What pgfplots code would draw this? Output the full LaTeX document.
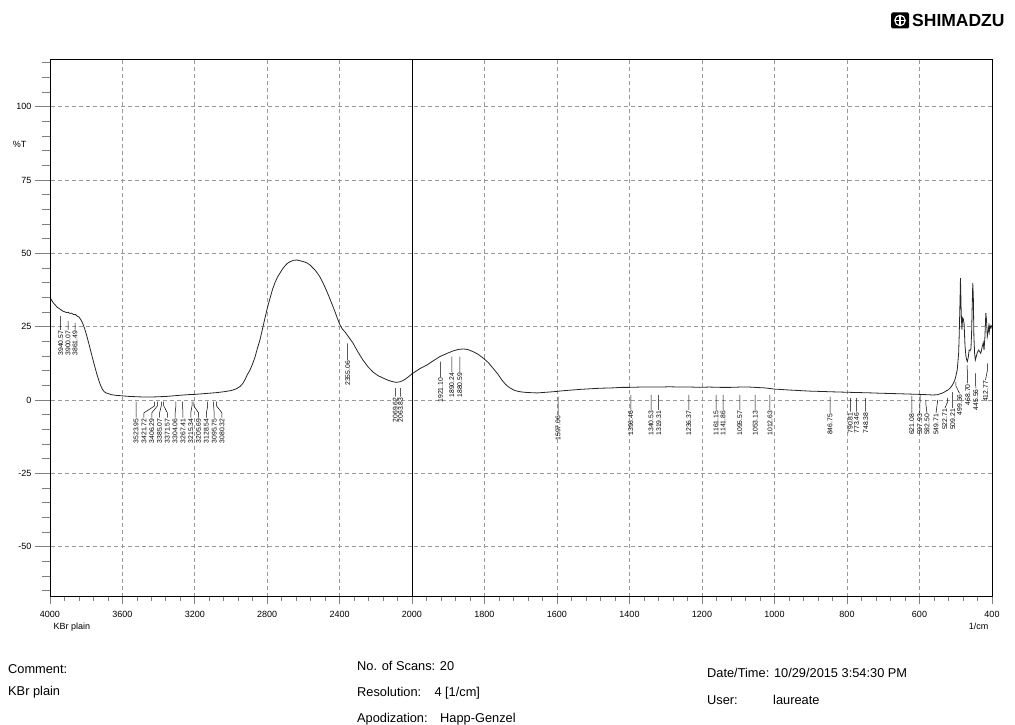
\documentclass[border=0pt]{standalone}
\usepackage{fontspec}
\setmainfont{Liberation Sans}
\usepackage{pgfplots}
\usepackage{pgfplotstable}
\pgfplotsset{compat=1.18}

\pgfplotstableread{
wn T
4000 35.0
3990 33.9
3980 33.0
3970 32.3
3960 31.6
3950 31.2
3940 30.8
3930 30.3
3920 30.1
3910 29.8
3900 29.9
3890 29.5
3880 29.6
3870 29.1
3860 29.2
3850 28.6
3840 28.3
3830 27.4
3820 26.2
3810 24.6
3800 22.6
3790 20.3
3780 17.9
3770 15.5
3760 13.1
3750 10.8
3740 8.6
3730 6.6
3720 4.9
3710 3.6
3700 2.8
3690 2.4
3680 2.2
3670 2.0
3660 1.8
3640 1.6
3620 1.5
3600 1.4
3560 1.2
3520 1.1
3480 1.0
3440 1.0
3400 1.1
3360 1.2
3320 1.4
3280 1.6
3240 1.8
3200 1.9
3160 2.1
3120 2.3
3080 2.5
3040 2.8
3000 3.2
2970 3.8
2950 4.6
2935 5.6
2922 7.0
2910 8.6
2895 10.2
2880 12.4
2867 14.7
2855 17.4
2840 20.5
2826 24.2
2812 28.0
2798 31.6
2784 34.8
2770 37.8
2757 40.0
2743 41.9
2729 43.3
2716 44.6
2702 45.7
2688 46.6
2674 47.1
2655 47.6
2635 47.7
2615 47.4
2591 47.0
2577 46.6
2563 46.0
2550 45.2
2536 44.3
2522 43.2
2508 41.9
2495 40.3
2481 38.5
2467 36.5
2453 34.4
2439 32.2
2425 30.0
2412 27.8
2398 25.6
2384 24.1
2370 23.2
2348 21.3
2326 19.4
2300 16.5
2271 13.6
2243 11.3
2215 9.5
2188 8.3
2160 7.5
2132 6.7
2105 6.2
2085 6.0
2066 6.2
2047 6.7
2028 7.5
2014 8.2
2000 8.9
1978 10.7
1959 11.9
1942 13.3
1923 14.8
1903 15.9
1887 16.7
1873 17.2
1859 17.4
1846 17.2
1832 16.5
1818 15.6
1804 14.3
1790 12.8
1777 10.9
1763 8.8
1752 6.8
1741 5.2
1730 4.1
1716 3.2
1702 2.8
1688 2.6
1674 2.5
1655 2.4
1633 2.6
1611 2.8
1595 3.0
1578 3.2
1557 3.4
1537 3.6
1510 3.8
1481 4.0
1450 4.1
1420 4.3
1399 4.3
1370 4.4
1340 4.4
1316 4.4
1290 4.5
1260 4.4
1230 4.4
1206 4.3
1180 4.4
1150 4.3
1120 4.3
1095 4.4
1070 4.4
1040 4.2
1025 4.1
1012 3.9
1000 3.7
985 3.6
960 3.4
930 3.2
900 3.0
870 2.9
847 2.8
820 2.7
792 2.6
760 2.5
730 2.4
709 2.3
680 2.2
650 2.1
626 2.0
599 1.9
580 1.8
563 1.7
550 1.8
543 2.1
536 2.4
530 2.8
525 3.2
521 3.4
516 4.0
511 4.8
506 5.8
502 7.0
499 8.5
496 10.2
494 13.0
492 16.0
490.5 22.0
489.5 27.0
488 35.0
487 41.5
486 36.0
485 30.0
483 24.0
481 28.0
479 27.5
477 26.0
474.5 18.5
472 15.0
470 13.8
468 13.1
465.5 14.5
463 17.0
460.5 16.8
458 17.5
456 24.0
454.5 33.0
453 39.8
451.5 35.0
450 22.0
448 16.0
446 13.6
443 15.0
441 16.0
437 17.0
434 16.5
431 15.9
429 17.0
427 18.2
424 19.5
422 17.0
419.5 21.6
417 29.6
415 27.0
413 21.6
411 23.0
409 25.0
407.5 23.3
405.5 25.5
403 24.5
400 25.5
}\spectrum

\pgfplotstableread{
x y lab
3940.57 23.9 3940.57
3900.07 23.9 3900.07
3861.49 23.9 3861.49
3523.95 -6.0 3523.95
3480.9 -6.0 3421.72
3437.8 -6.0 3406.29
3394.7 -6.0 3385.07
3351.6 -6.0 3371.57
3308.5 -6.0 3304.06
3265.4 -6.0 3267.41
3222.3 -6.0 3215.34
3179.2 -6.0 3205.69
3136.1 -6.0 3128.54
3093.0 -6.0 3095.75
3049.9 -6.0 3080.32
2355.06 13.6 2355.06
2092 1.1 2069.62
2063.83 1.1 2063.83
}\leftlabels

\pgfplotstableread{
x y lab
1921.10 7.9 1921.10
1890.24 9.6 1890.24
1868 9.6 1880.59
1597.06 -5.1 1597.06
1396.46 -3.4 1396.46
1340.53 -3.4 1340.53
1319.31 -3.4 1319.31
1236.37 -3.4 1236.37
1161.15 -3.4 1161.15
1141.86 -3.4 1141.86
1095.57 -3.4 1095.57
1053.13 -3.4 1053.13
1012.63 -3.4 1012.63
846.75 -4.5 846.75
790.81 -4.0 790.81
773.46 -4.0 773.46
748.38 -4.0 748.38
621.08 -4.5 621.08
599.5 -4.5 597.93
579.3 -4.5 582.50
554.5 -4.5 549.71
530 -2.8 522.71
508.4 -2.8 509.21
489.7 2.3 499.56
467 5.7 468.70
444.7 4.0 445.56
418 6.8 412.77
}\rightlabels

\pgfplotsset{
  irbase/.style={
    scale only axis, height=536.8pt, ymin=-67, ymax=116,
    x dir=reverse, axis line style={line width=0.9pt},
    tick align=outside,
    tick label style={font=\fontsize{9}{10}\selectfont},
    xticklabel style={yshift=-4pt},
    /pgf/number format/assume math mode=true,
    /pgf/number format/1000 sep={},
    scaled ticks=false,
  },
  irdata/.style={
    irbase,
    ytick={-50,-25,...,100}, yticklabels={}, ytick style={draw=none},
    xtick pos=bottom, major tick length=7pt, minor tick length=4pt,
    xtick style={line width=0.7pt},
    grid=major, major grid style={gray!80, line width=0.6pt, dash pattern=on 4pt off 3pt},
  },
  peaklabels/.style={
    only marks, mark=none, nodes near coords, point meta=explicit symbolic,
    nodes near coords align={anchor=east},
    nodes near coords style={rotate=90, anchor=east, inner sep=0.8pt,
      font=\fontsize{6.8}{7.5}\selectfont, text=black},
  },
}

\begin{document}
\begin{tikzpicture}
\path[use as bounding box] (0,0) rectangle (1015pt,724pt);

% left part 4000-2000
\begin{axis}[irdata, at={(50pt,127.5pt)}, anchor=south west, width=362pt,
  xmin=2000, xmax=4000, xtick={2000,2400,...,4000}, minor xtick={2080,2160,...,3920}]
\addplot[black!85, line width=0.8pt] table[x=wn, y=T] {\spectrum};
\addplot[black, line width=0.5pt, unbounded coords=jump] coordinates {
(3940.57,28.6) (3940.57,23.9) (3940.57,nan)
(3900.07,26.9) (3900.07,23.9) (3900.07,nan)
(3861.49,26.3) (3861.49,23.9) (3861.49,nan)
(3523.95,-0.6) (3523.95,-6.0) (3523.95,nan)
(3421.72,-0.6) (3421.72,-2.0) (3480.9,-4.4) (3480.9,-6.0) (3480.9,nan)
(3406.29,-0.6) (3406.29,-2.0) (3437.8,-4.4) (3437.8,-6.0) (3437.8,nan)
(3385.07,-0.6) (3385.07,-2.0) (3394.7,-4.4) (3394.7,-6.0) (3394.7,nan)
(3371.57,-0.6) (3371.57,-2.0) (3351.6,-4.4) (3351.6,-6.0) (3351.6,nan)
(3304.06,-0.6) (3304.06,-2.0) (3308.5,-4.4) (3308.5,-6.0) (3308.5,nan)
(3267.41,-0.6) (3267.41,-2.0) (3265.4,-4.4) (3265.4,-6.0) (3265.4,nan)
(3215.34,-0.6) (3215.34,-2.0) (3222.3,-4.4) (3222.3,-6.0) (3222.3,nan)
(3205.69,-0.6) (3205.69,-2.0) (3179.2,-4.4) (3179.2,-6.0) (3179.2,nan)
(3128.54,-0.6) (3128.54,-2.0) (3136.1,-4.4) (3136.1,-6.0) (3136.1,nan)
(3095.75,-0.6) (3095.75,-2.0) (3093.0,-4.4) (3093.0,-6.0) (3093.0,nan)
(3080.32,-0.6) (3080.32,-2.0) (3049.9,-4.4) (3049.9,-6.0) (3049.9,nan)
(2355.06,19.3) (2355.06,13.6) (2355.06,nan)
(2092,4.0) (2092,1.1) (2092,nan)
(2063.83,4.0) (2063.83,1.1)
};
\addplot[peaklabels] table[x=x, y=y, meta=lab] {\leftlabels};
\end{axis}

% right part 2000-400
\begin{axis}[irdata, at={(412pt,127.5pt)}, anchor=south west, width=580pt,
  xmin=400, xmax=2000, xtick={400,600,...,1800}, minor xtick={440,480,...,1960}]
\addplot[black!85, line width=0.8pt] table[x=wn, y=T] {\spectrum};
\addplot[black, line width=0.5pt, unbounded coords=jump] coordinates {
(1921.10,13.1) (1921.10,7.9) (1921.10,nan)
(1890.24,14.8) (1890.24,9.6) (1890.24,nan)
(1868,14.8) (1868,9.6) (1868,nan)
(1597.06,1.1) (1597.06,-5.1) (1597.06,nan)
(1396.46,1.7) (1396.46,-3.4) (1396.46,nan)
(1340.53,1.7) (1340.53,-3.4) (1340.53,nan)
(1319.31,1.7) (1319.31,-3.4) (1319.31,nan)
(1236.37,1.7) (1236.37,-3.4) (1236.37,nan)
(1161.15,1.7) (1161.15,-3.4) (1161.15,nan)
(1141.86,1.7) (1141.86,-3.4) (1141.86,nan)
(1095.57,1.7) (1095.57,-3.4) (1095.57,nan)
(1053.13,1.7) (1053.13,-3.4) (1053.13,nan)
(1012.63,1.7) (1012.63,-3.4) (1012.63,nan)
(846.75,1.1) (846.75,-4.5) (846.75,nan)
(790.81,0.6) (790.81,-4.0) (790.81,nan)
(773.46,0.6) (773.46,-4.0) (773.46,nan)
(748.38,0.6) (748.38,-4.0) (748.38,nan)
(621.08,1.4) (621.08,-4.5) (621.08,nan)
(597.93,2.0) (599.5,-4.5) (599.5,nan)
(582.50,0.0) (582.50,-1.4) (579.3,-4.5) (579.3,nan)
(549.71,0.0) (554.5,-4.5) (554.5,nan)
(522.71,0.7) (522.71,-0.7) (530,-2.8) (530,nan)
(509.21,2.7) (508.4,-2.8) (508.4,nan)
(499.56,6.2) (499.56,4.8) (489.7,2.3) (489.7,nan)
(468.70,11.9) (467,5.7) (467,nan)
(445.56,9.1) (444.7,4.0) (444.7,nan)
(412.77,12.5) (412.77,10.0) (418,6.8)
};
\addplot[peaklabels] table[x=x, y=y, meta=lab] {\rightlabels};
\end{axis}

% y ticks and labels
\begin{axis}[irbase, at={(50pt,127.5pt)}, anchor=south west, width=362pt,
  xmin=2000, xmax=4000, hide x axis, ytick pos=left,
  ytick={-50,-25,...,100}, minor ytick={-65,-60,...,115},
  major tick length=15pt, minor tick length=8pt,
  ytick style={line width=0.7pt}]
\end{axis}

\node[anchor=east, font=\fontsize{9}{10}\selectfont] at (30pt,580pt) {\%T};
\node[anchor=base west, font=\fontsize{9}{10}\selectfont] at (50pt,94.5pt) {KBr plain};
\node[anchor=base east, font=\fontsize{9}{10}\selectfont] at (992pt,94.5pt) {1/cm};

% logo
\fill[black, rounded corners=1.5pt] (891pt,695.5pt) rectangle (909pt,711.5pt);
\draw[white, line width=1.2pt] (900pt,703.5pt) circle (5.2pt);
\draw[white, line width=1.2pt] (900pt,698.3pt) -- (900pt,708.7pt) (894.8pt,703.5pt) -- (905.2pt,703.5pt);
\node[anchor=base west, inner sep=0pt, font=\bfseries\fontsize{17.5}{20}\selectfont] at (912pt,697pt) {SHIMADZU};

% footer
\begin{scope}[every node/.style={anchor=base west, inner sep=0pt, font=\fontsize{12.8}{14}\selectfont}]
\node at (8pt,50.5pt) {Comment:};
\node at (8pt,28.5pt) {KBr plain};
\node at (357pt,53.3pt) {No. of Scans: 20};
\node at (357pt,27.3pt) {Resolution:};
\node at (434.3pt,27.3pt) {4 [1/cm]};
\node at (357pt,1.5pt) {Apodization:};
\node at (440pt,1.5pt) {Happ-Genzel};
\node at (707pt,46.5pt) {Date/Time: 10/29/2015 3:54:30 PM};
\node at (707pt,19.5pt) {User:};
\node at (773pt,19.5pt) {laureate};
\end{scope}
\end{tikzpicture}
\end{document}
